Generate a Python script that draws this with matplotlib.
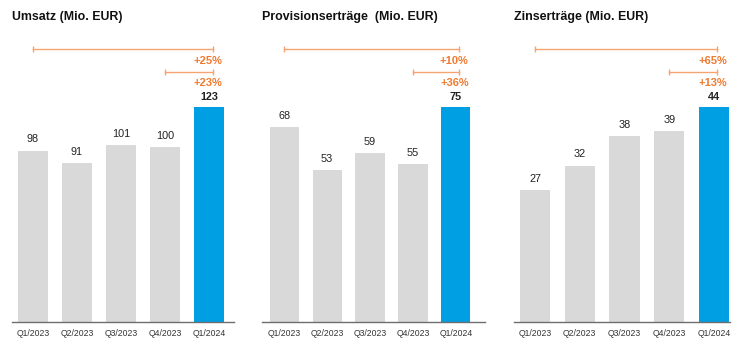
import matplotlib
matplotlib.use("Agg")
import matplotlib.pyplot as plt
from matplotlib.transforms import blended_transform_factory

plt.rcParams['font.family'] = ['Liberation Sans', 'DejaVu Sans']

quarters = ["Q1/2023", "Q2/2023", "Q3/2023", "Q4/2023", "Q1/2024"]
titles = ["Umsatz (Mio. EUR)", "Provisionserträge  (Mio. EUR)", "Zinserträge (Mio. EUR)"]
umsatz = [98, 91, 101, 100, 123]
provision = [68, 53, 59, 55, 75]
zins = [27, 32, 38, 39, 44]
yoy_pct = ["+25%", "+10%", "+65%"]
qoq_pct = ["+23%", "+36%", "+13%"]
series = [umsatz, provision, zins]

GREY = "#d9d9d9"
BLUE = "#009fe3"
ORANGE_T = "#f07a30"
ORANGE_L = "#f6a46f"
AXIS = "#6e6e6e"

W, H = 741, 352
fig = plt.figure(figsize=(W / 100, H / 100), dpi=100)

# panel geometry in pixels: (left, right, xlim)
panels = [
    (12, 234, (-0.47, 4.56)),
    (262, 485, (-0.52, 4.68)),
    (514, 730, (-0.47, 4.36)),
]
base_px, top_px, maxbar_px = 322, 40, 215

def fy(p):
    return 1 - p / H

for i, (vals, title) in enumerate(zip(series, titles)):
    l, r, xl = panels[i]
    ax = fig.add_axes([l / W, fy(base_px), (r - l) / W, (base_px - top_px) / H])
    x = list(range(len(vals)))
    colors = [GREY] * (len(vals) - 1) + [BLUE]
    ax.bar(x, vals, width=0.68, color=colors, zorder=2)
    ax.set_xlim(*xl)
    ax.set_ylim(0, max(vals) * (base_px - top_px) / maxbar_px)
    for s in ['top', 'right', 'left']:
        ax.spines[s].set_visible(False)
    ax.spines['bottom'].set_color(AXIS)
    ax.spines['bottom'].set_linewidth(1.0)
    ax.set_yticks([])
    ax.set_xticks(x)
    ax.set_xticklabels(quarters, fontsize=6.2, color="#333333")
    ax.tick_params(axis='x', length=0, pad=5)
    for j, v in enumerate(vals):
        last = j == len(vals) - 1
        ax.annotate(str(v), (x[j], v), xytext=(0, 3.5 if last else 4.5),
                    textcoords='offset points',
                    ha='center', va='bottom', fontsize=7.8,
                    fontweight='bold' if last else 'normal', color="#222222")
    # title
    fig.text(l / W, fy(17), title, fontsize=8.9, fontweight='bold',
             ha='left', va='center', color="#111111")
    tr = blended_transform_factory(ax.transData, fig.transFigure)
    y1, y2 = fy(49), fy(72)
    xe = x[4] + 0.08
    ax.plot([x[0], xe], [y1, y1], transform=tr, color=ORANGE_L, lw=1, clip_on=False,
            marker='|', markersize=5, markeredgewidth=1)
    ax.plot([x[3], xe], [y2, y2], transform=tr, color=ORANGE_L, lw=1, clip_on=False,
            marker='|', markersize=5, markeredgewidth=1)
    ax.text(x[4] + 0.3, fy(60.5), yoy_pct[i], transform=tr, ha='right', va='center',
            fontsize=8, fontweight='bold', color=ORANGE_T)
    ax.text(x[4] + 0.3, fy(83.5), qoq_pct[i], transform=tr, ha='right', va='center',
            fontsize=8, fontweight='bold', color=ORANGE_T)

fig.savefig("out.png", dpi=100)
